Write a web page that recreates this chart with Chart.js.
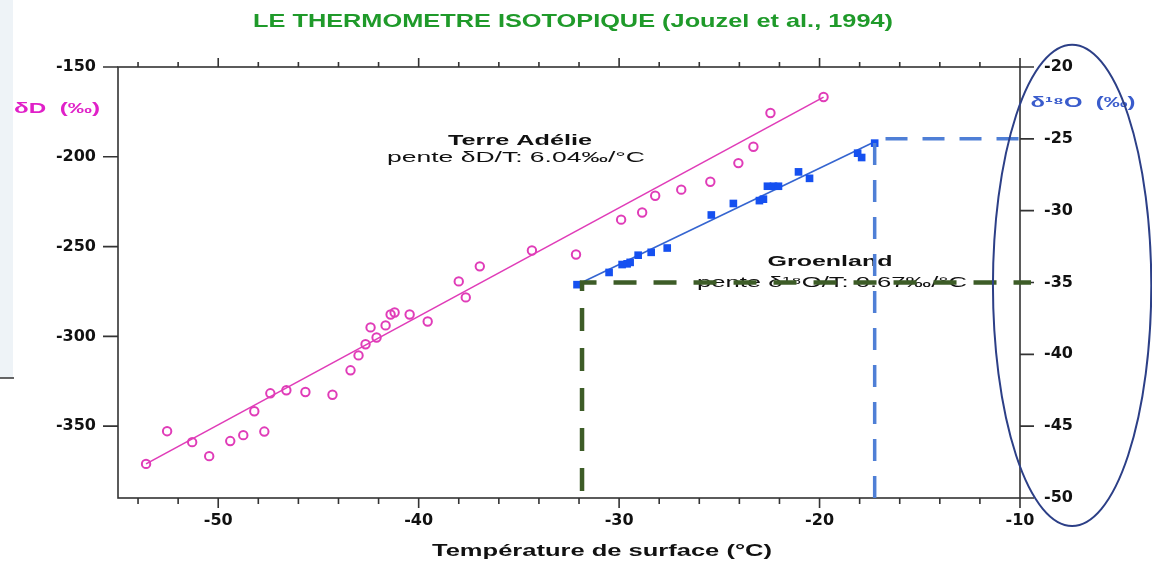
<!DOCTYPE html>
<html>
<head>
<meta charset="utf-8">
<script src="https://cdn.jsdelivr.net/npm/chart.js@4.4.1/dist/chart.umd.min.js"></script>
<style>
  html, body { margin: 0; padding: 0; background: #fff; }
  #wrap { width: 1152px; height: 571px; position: relative; }
</style>
</head>
<body>
<div id="wrap"><canvas id="myChart"></canvas></div>
<script>
// Terre Adelie (deltaD, left axis)
var tempTA = [-53.6, -52.55, -51.3, -50.45, -49.4, -48.75, -47.7, -48.2, -47.4, -46.6, -45.65, -44.3,
              -43.4, -43.0, -42.65, -42.4, -42.1, -41.65, -41.4, -41.2, -40.45, -39.55, -38.0, -37.65,
              -36.95, -34.35, -32.15, -29.9, -28.85, -28.2, -26.9, -25.45, -24.05, -23.3, -22.45, -19.8];
var dD_TA = [-371, -352.8, -358.9, -366.7, -358.3, -355, -353, -341.7, -331.7, -330, -331, -332.5,
             -318.9, -310.6, -304.4, -295, -300.6, -293.9, -287.8, -286.7, -287.8, -291.7, -269.4, -278.3,
             -261, -252.2, -254.4, -235, -231, -221.7, -218.3, -213.9, -203.5, -194.4, -175.6, -166.7];
var fitTA_x = [-53.6, -19.8];
var fitTA_y = [-371, -166.8];

// Groenland (delta18O, right axis)
var tempGR = [-32.1, -30.5, -29.85, -29.6, -29.45, -29.05, -28.4, -27.6, -25.4, -24.3,
              -23.0, -22.8, -22.6, -22.3, -22.05, -21.05, -20.5, -18.1, -17.9, -17.25];
var d18O_GR = [-35.15, -34.3, -33.75, -33.7, -33.6, -33.1, -32.9, -32.6, -30.3, -29.5,
               -29.3, -29.2, -28.3, -28.3, -28.3, -27.3, -27.75, -26.0, -26.3, -25.3];
var fitGR_x = [-32.1, -17.25];
var fitGR_y = [-35.15, -25.2];

// dashed reading lines (temperature, delta18O)
var greenRef_x = [-31.85, -31.85, -9.45];
var greenRef_y = [-50, -35, -35];
var blueRef_x = [-17.25, -17.25, -9.45];
var blueRef_y = [-50, -25, -25];

// axis ranges and ticks
var xMin = -55, xMax = -10;
var yMin = -390, yMax = -150;
var y2Min = -50, y2Max = -20;

function pts(xs, ys) {
  return xs.map(function(x, i) { return {x: x, y: ys[i]}; });
}

function stretchText(ctx, txt, cx, cy, font, color, w) {
  ctx.save();
  ctx.font = font;
  ctx.fillStyle = color;
  ctx.textAlign = "center";
  ctx.textBaseline = "middle";
  var m = ctx.measureText(txt).width;
  ctx.translate(cx, cy);
  ctx.scale(w / m, 1);
  ctx.fillText(txt, 0, 0);
  ctx.restore();
}

var decor = {
  id: "decor",
  beforeDraw: function(chart) {
    var ctx = chart.ctx;
    ctx.save();
    ctx.fillStyle = "#fff";
    ctx.fillRect(0, 0, chart.width, chart.height);
    // slide background remnant on the left
    ctx.fillStyle = "#eef3f7";
    ctx.fillRect(0, 0, 13, 378);
    ctx.strokeStyle = "#333";
    ctx.lineWidth = 1.5;
    ctx.beginPath(); ctx.moveTo(0, 378); ctx.lineTo(14, 378); ctx.stroke();
    ctx.restore();
  },
  beforeDatasetsDraw: function(chart) {
    var ctx = chart.ctx, a = chart.chartArea;
    var sx = chart.scales.x, sy = chart.scales.y, sy2 = chart.scales.y2;
    ctx.save();
    ctx.strokeStyle = "#333";
    ctx.lineWidth = 1.6;
    ctx.strokeRect(a.left, a.top, a.right - a.left, a.bottom - a.top);
    ctx.beginPath();
    var v, p, big;
    for (v = -54; v <= xMax; v += 2) {
      p = sx.getPixelForValue(v);
      big = v % 10 === 0;
      ctx.moveTo(p, a.bottom); ctx.lineTo(p, a.bottom + (big ? 10 : 6));
      ctx.moveTo(p, a.top); ctx.lineTo(p, a.top - (big ? 9 : 5));
    }
    for (v = -150; v >= -350; v -= 50) {
      p = sy.getPixelForValue(v);
      ctx.moveTo(a.left - 15, p); ctx.lineTo(a.left, p);
    }
    for (v = -20; v >= -50; v -= 5) {
      p = sy2.getPixelForValue(v);
      ctx.moveTo(a.right, p); ctx.lineTo(a.right + 14, p);
    }
    ctx.stroke();
    ctx.restore();

    stretchText(ctx, "LE THERMOMETRE ISOTOPIQUE (Jouzel et al., 1994)", 573, 22, "bold 19px 'Liberation Sans'", "#1f9a2a", 640);
    stretchText(ctx, "\u03b4D  (\u2030)", 57, 109, "bold 15px 'Liberation Sans'", "#e020c8", 86);
    stretchText(ctx, "\u03b4\u00b9\u2078O  (\u2030)", 1083, 103, "bold 15px 'Liberation Sans'", "#3a5ccc", 105);
    stretchText(ctx, "Terre Ad\u00e9lie", 520, 141, "bold 15px 'Liberation Sans'", "#111", 144);
    stretchText(ctx, "pente \u03b4D/T: 6.04\u2030/\u00b0C", 516, 158, "15px 'Liberation Sans'", "#111", 258);
    stretchText(ctx, "Groenland", 830, 262, "bold 15px 'Liberation Sans'", "#111", 125);
    stretchText(ctx, "pente \u03b4\u00b9\u2078O/T: 0.67\u2030/\u00b0C", 832, 283, "15px 'Liberation Sans'", "#111", 270);
    stretchText(ctx, "Temp\u00e9rature de surface (\u00b0C)", 602, 552, "bold 16px 'Liberation Sans'", "#111", 340);
  },
  afterDatasetsDraw: function(chart) {
    var ctx = chart.ctx;
    var sx = chart.scales.x, sy2 = chart.scales.y2;
    var cx = sx.getPixelForValue(-7.4), cy = sy2.getPixelForValue(-35.2);
    var rx = sx.getPixelForValue(-7.4 + 3.95) - cx;
    var ry = sy2.getPixelForValue(-35.2 - 16.75) - cy;
    ctx.save();
    ctx.strokeStyle = "#2c3f87";
    ctx.lineWidth = 2;
    ctx.beginPath();
    ctx.ellipse(cx, cy, rx, ry, 0, 0, Math.PI * 2);
    ctx.stroke();
    ctx.restore();
  }
};

var tickFont = {family: "'DejaVu Sans'", weight: "bold", size: 16};

document.addEventListener("DOMContentLoaded", function() {
  var ctx = document.getElementById("myChart").getContext("2d");
  var myChart = new Chart(ctx, {
    type: "scatter",
    data: {
      datasets: [
        {
          type: "line", label: "ref vert", data: pts(greenRef_x, greenRef_y), yAxisID: "y2",
          borderColor: "#3d5c27", borderWidth: 4.5, borderDash: [23, 17], borderDashOffset: 33,
          pointRadius: 0, fill: false, clip: false, tension: 0
        },
        {
          type: "line", label: "ref bleu", data: pts(blueRef_x, blueRef_y), yAxisID: "y2",
          borderColor: "#4f7fd6", borderWidth: 3.5, borderDash: [22, 15],
          pointRadius: 0, fill: false, clip: false, tension: 0
        },
        {
          label: "Terre Adelie", data: pts(tempTA, dD_TA), yAxisID: "y",
          pointStyle: "circle", pointRadius: 4.2, borderWidth: 2,
          borderColor: "#e03cb8", backgroundColor: "rgba(255,255,255,0)"
        },
        {
          label: "Groenland", data: pts(tempGR, d18O_GR), yAxisID: "y2",
          pointStyle: "rect", pointRadius: 5.4, borderWidth: 0,
          borderColor: "#1550f0", backgroundColor: "#1550f0"
        },
        {
          type: "line", label: "fit TA", data: pts(fitTA_x, fitTA_y), yAxisID: "y",
          borderColor: "#e03cb8", borderWidth: 1.6, pointRadius: 0, fill: false
        },
        {
          type: "line", label: "fit GR", data: pts(fitGR_x, fitGR_y), yAxisID: "y2",
          borderColor: "#3565d0", borderWidth: 1.6, pointRadius: 0, fill: false
        }
      ]
    },
    options: {
      responsive: true,
      maintainAspectRatio: false,
      animation: false,
      layout: { padding: { top: 67 } },
      plugins: {
        legend: { display: false },
        tooltip: { enabled: false },
        title: { display: false }
      },
      scales: {
        x: {
          type: "linear", position: "bottom", min: xMin, max: xMax,
          grid: { display: false, drawTicks: false }, border: { display: false },
          ticks: { stepSize: 10, padding: 13, autoSkip: false, maxRotation: 0, font: tickFont, color: "#111" },
          afterBuildTicks: function(s) { s.ticks = s.ticks.filter(function(t) { return t.value % 10 === 0; }); },
          afterFit: function(s) { s.height = 73; }
        },
        y: {
          type: "linear", position: "left", min: yMin, max: yMax,
          grid: { display: false, drawTicks: false }, border: { display: false },
          ticks: { stepSize: 50, padding: 22, autoSkip: false, font: tickFont, color: "#111" },
          afterBuildTicks: function(s) { s.ticks = s.ticks.filter(function(t) { return t.value % 50 === 0 && t.value >= -350; }); },
          afterFit: function(s) { s.width = 118; }
        },
        y2: {
          type: "linear", position: "right", min: y2Min, max: y2Max,
          grid: { display: false, drawTicks: false }, border: { display: false },
          ticks: { stepSize: 5, padding: 24, autoSkip: false, font: tickFont, color: "#111" },
          afterFit: function(s) { s.width = 132; }
        }
      }
    },
    plugins: [decor]
  });
});
</script>
</body>
</html>
